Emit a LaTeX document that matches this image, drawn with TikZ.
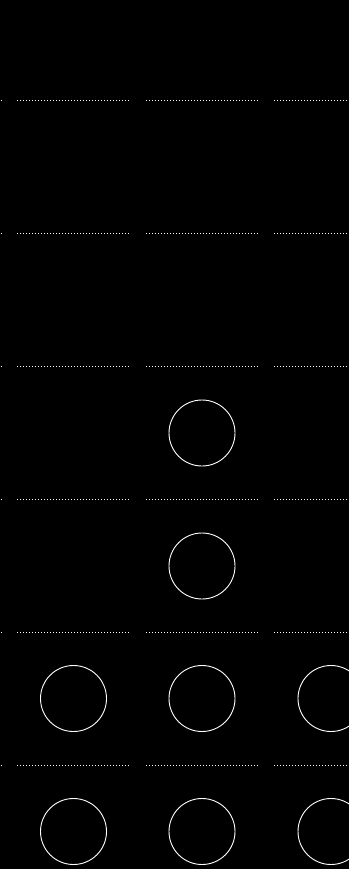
\documentclass[tikz,border=0pt]{standalone}
\begin{document}
\begin{tikzpicture}[x=1pt,y=-1pt,
  dotline/.style={draw=white,line width=1pt,dash pattern=on 1pt off 2pt},
  ring/.style={circle,draw=white,line width=0.9pt,minimum size=66pt,inner sep=0pt}]
\fill[black] (0,0) rectangle (349,869);
\useasboundingbox (0,0) rectangle (349,869);
\foreach \y in {100.5,233.5,366.5,499.5,632.5,765.5}{
  \draw[dotline] (1,\y) -- (2.2,\y);
  \draw[dotline] (17,\y) -- (130.5,\y);
  \draw[dotline] (146,\y) -- (259.5,\y);
  \draw[dotline] (274,\y) -- (349,\y);
}
\node[ring] (c1) at (202,433) {};
\node[ring] (c2) at (202,566) {};
\node[ring] (c3) at (73.5,698.5) {};
\node[ring] (c4) at (202,698.5) {};
\node[ring] (c5) at (331,698.5) {};
\node[ring] (c6) at (73.5,831.5) {};
\node[ring] (c7) at (202,831.5) {};
\node[ring] (c8) at (331,831.5) {};
\end{tikzpicture}
\end{document}
